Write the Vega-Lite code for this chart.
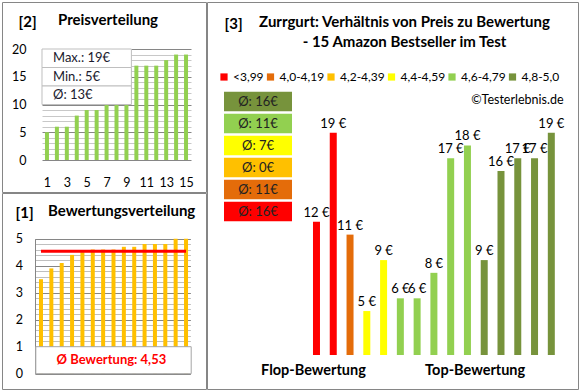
{
  "$schema": "https://vega.github.io/schema/vega-lite/v6.json",
  "padding": {"left": 1, "top": 1, "right": 0, "bottom": 0},
  "background": "white",
  "spacing": -3,
  "config": {
    "view": {"stroke": "#868686", "strokeWidth": 1},
    "font": "Lato",
    "axis": {"labelFont": "Lato", "titleFont": "Lato", "labelColor": "#000", "titleColor": "#000", "labelOverlap": false},
    "title": {"font": "Lato", "color": "#000"},
    "legend": {"labelFont": "Lato", "labelColor": "#000"}
  },
  "resolve": {"scale": {"color": "independent"}, "legend": {"color": "independent"}},
  "datasets": {
    "products": [
      {"rank": 1, "rating": 3.5, "price": 12, "cat": "<3,99"},
      {"rank": 2, "rating": 3.9, "price": 19, "cat": "<3,99"},
      {"rank": 3, "rating": 4.1, "price": 11, "cat": "4,0-4,19"},
      {"rank": 4, "rating": 4.4, "price": 5, "cat": "4,4-4,59"},
      {"rank": 5, "rating": 4.5, "price": 9, "cat": "4,4-4,59"},
      {"rank": 6, "rating": 4.6, "price": 6, "cat": "4,6-4,79"},
      {"rank": 7, "rating": 4.6, "price": 6, "cat": "4,6-4,79"},
      {"rank": 8, "rating": 4.6, "price": 8, "cat": "4,6-4,79"},
      {"rank": 9, "rating": 4.7, "price": 17, "cat": "4,6-4,79"},
      {"rank": 10, "rating": 4.7, "price": 18, "cat": "4,6-4,79"},
      {"rank": 11, "rating": 4.8, "price": 9, "cat": "4,8-5,0"},
      {"rank": 12, "rating": 4.8, "price": 16, "cat": "4,8-5,0"},
      {"rank": 13, "rating": 4.8, "price": 17, "cat": "4,8-5,0"},
      {"rank": 14, "rating": 5.0, "price": 17, "cat": "4,8-5,0"},
      {"rank": 15, "rating": 5.0, "price": 19, "cat": "4,8-5,0"}
    ],
    "prices": [
      {"pos": 1, "price": 5}, {"pos": 2, "price": 6}, {"pos": 3, "price": 6},
      {"pos": 4, "price": 8}, {"pos": 5, "price": 9}, {"pos": 6, "price": 9},
      {"pos": 7, "price": 11}, {"pos": 8, "price": 12}, {"pos": 9, "price": 16},
      {"pos": 10, "price": 17}, {"pos": 11, "price": 17}, {"pos": 12, "price": 17},
      {"pos": 13, "price": 18}, {"pos": 14, "price": 19}, {"pos": 15, "price": 19}
    ],
    "stats": [
      {"row": "max", "text": "Max.: 19€"},
      {"row": "min", "text": "Min.: 5€"},
      {"row": "avg", "text": "Ø: 13€"}
    ],
    "groups": [
      {"cat": "4,8-5,0", "avgText": "Ø: 16€"},
      {"cat": "4,6-4,79", "avgText": "Ø: 11€"},
      {"cat": "4,4-4,59", "avgText": "Ø: 7€"},
      {"cat": "4,2-4,39", "avgText": "Ø: 0€"},
      {"cat": "4,0-4,19", "avgText": "Ø: 11€"},
      {"cat": "<3,99", "avgText": "Ø: 16€"}
    ]
  },
  "hconcat": [
    {
      "spacing": -3,
      "vconcat": [
        {
          "width": 204,
          "height": 190,
          "title": {"text": "Preisverteilung", "anchor": "start", "frame": "group", "dx": 56, "offset": -26, "fontSize": 15, "fontWeight": "bold"},
          "resolve": {"scale": {"y": "independent"}},
          "layer": [
            {
              "data": {"name": "prices"},
              "mark": {"type": "bar", "color": "#92D050", "size": 4},
              "encoding": {
                "x": {"field": "pos", "type": "quantitative", "scale": {"domain": [0.5, 15.5], "range": [40, 189], "padding": 0, "nice": false, "zero": false},
                  "axis": {"values": [1, 3, 5, 7, 9, 11, 13, 15], "format": "d", "tickCount": 100, "labelOverlap": false, "grid": false, "domain": false, "ticks": false, "tickSize": 0, "labelPadding": 16, "offset": -32, "title": null, "labelFontSize": 12.5}},
                "y": {"field": "price", "type": "quantitative", "scale": {"domain": [0, 20], "range": [158, 47], "padding": 0, "nice": false},
                  "axis": {"values": [0,1,2,3,4,5,6,7,8,9,10,11,12,13,14,15,16,17,18,19,20], "tickCount": 100, "labelOverlap": false,
                    "labelExpr": "datum.value % 5 === 0 ? format(datum.value, 'd') : ''",
                    "grid": false, "zindex": 0,
                    "ticks": true, "tickSize": -149, "tickWidth": 1,
                    "tickColor": {"condition": {"test": "datum.value % 5 === 0", "value": "#868686"}, "value": "#c8c8c8"},
                    "domain": false, "labelPadding": 165, "offset": -40, "labelFontSize": 12.5,
                    "title": "[2]", "titleAngle": 0, "titleX": -24, "titleY": 19, "titleAlign": "left", "titleBaseline": "middle", "titleFontSize": 15, "titleFontWeight": "bold"}}
              }
            },
            {
              "data": {"name": "stats"},
              "encoding": {
                "y": {"field": "row", "type": "nominal", "sort": ["max", "min", "avg"], "scale": {"range": [47, 102.5], "paddingInner": 0, "paddingOuter": 0}, "axis": null}
              },
              "layer": [
                {"mark": {"type": "rect", "fill": "white", "stroke": "#bfbfbf", "strokeWidth": 1}, "encoding": {"x": {"datum": 0.5}, "x2": {"datum": 9.5}}},
                {"mark": {"type": "text", "align": "left", "dx": 11, "fontSize": 13, "color": "#1a1a2e"}, "encoding": {"x": {"datum": 0.5}, "text": {"field": "text"}}}
              ]
            }
          ]
        },
        {
          "width": 204,
          "height": 196,
          "title": {"text": "Bewertungsverteilung", "anchor": "start", "frame": "group", "dx": 46, "offset": -26, "fontSize": 15, "fontWeight": "bold"},
          "layer": [
            {
              "data": {"name": "products"},
              "mark": {"type": "bar", "color": "#FFC000", "size": 4},
              "encoding": {
                "x": {"field": "rank", "type": "quantitative", "scale": {"domain": [0.5, 15.5], "range": [33.8, 189.2], "padding": 0, "nice": false, "zero": false}, "axis": null},
                "y": {"field": "rating", "type": "quantitative", "scale": {"domain": [0, 5], "range": [180.7, 45.7], "padding": 0, "nice": false},
                  "axis": {"values": [0,0.2,0.4,0.6,0.8,1,1.2,1.4,1.6,1.8,2,2.2,2.4,2.6,2.8,3,3.2,3.4,3.6,3.8,4,4.2,4.4,4.6,4.8,5], "tickCount": 100, "labelOverlap": false,
                    "labelExpr": "datum.value % 1 === 0 ? format(datum.value, 'd') : ''",
                    "grid": false, "zindex": 0,
                    "ticks": true, "tickSize": -155.4, "tickWidth": 1,
                    "tickColor": {"condition": {"test": "datum.value % 1 === 0", "value": "#868686"}, "value": "#bfbfbf"},
                    "domain": true, "domainColor": "#868686", "labelPadding": 168, "offset": -33, "labelFontSize": 12.5,
                    "title": "[1]", "titleAngle": 0, "titleX": -20, "titleY": 19, "titleAlign": "left", "titleBaseline": "middle", "titleFontSize": 15, "titleFontWeight": "bold"}}
              }
            },
            {
              "data": {"values": [{}]},
              "mark": {"type": "rect", "fill": "white", "stroke": "#a6a6a6", "strokeWidth": 1},
              "encoding": {"x": {"datum": 0.5}, "x2": {"datum": 15.5}, "y": {"datum": 0}, "y2": {"datum": 1}}
            },
            {
              "data": {"values": [{}]},
              "mark": {"type": "text", "fontSize": 13, "fontWeight": "bold", "color": "#FF0000"},
              "encoding": {"x": {"datum": 7.8}, "y": {"datum": 0.5}, "text": {"value": "Ø Bewertung: 4,53"}}
            },
            {
              "data": {"name": "products"},
              "transform": [{"joinaggregate": [{"op": "mean", "field": "rating", "as": "avg"}]}],
              "mark": {"type": "line", "color": "#FF0000", "strokeWidth": 3},
              "encoding": {"x": {"field": "rank", "type": "quantitative"}, "y": {"field": "avg", "type": "quantitative"}}
            }
          ]
        }
      ]
    },
    {
      "width": 371,
      "height": 387,
      "title": {"text": ["Zurrgurt: Verhältnis von Preis zu Bewertung", "- 15 Amazon Bestseller im Test"], "anchor": "middle", "frame": "group", "dx": 12, "offset": -48, "fontSize": 15, "fontWeight": "bold", "lineHeight": 20},
      "resolve": {"scale": {"x": "independent", "y": "independent"}},
      "layer": [
        {
          "data": {"name": "products"},
          "transform": [{"calculate": "datum.price + ' €'", "as": "label"}],
          "encoding": {
            "x": {"field": "rank", "type": "quantitative", "scale": {"domain": [0.5, 15.5], "range": [101.1, 352.7], "padding": 0, "nice": false, "zero": false},
              "axis": {"values": [0.79, 10.43], "tickCount": 100, "labelOverlap": false, "labelExpr": "datum.value < 5 ? 'Flop-Bewertung' : 'Top-Bewertung'",
                "grid": false, "ticks": false, "tickSize": 0, "domain": false, "offset": -33, "labelPadding": 7, "labelFontSize": 14.5, "labelFontWeight": "bold", "labelBaseline": "top",
                "title": "©Testerlebnis.de", "titleX": 356, "titleY": -257, "titleAlign": "right", "titleBaseline": "middle", "titleFontWeight": "normal", "titleFontSize": 12.5}},
            "y": {"field": "price", "type": "quantitative", "scale": {"domain": [1.55, 19], "range": [353, 130.7], "padding": 0, "nice": false, "zero": false},
              "axis": {"labels": false, "ticks": false, "domain": false, "grid": false,
                "title": "[3]", "titleAngle": 0, "titleX": 17, "titleY": 21, "titleAlign": "left", "titleBaseline": "middle", "titleFontSize": 15, "titleFontWeight": "bold"}}
          },
          "layer": [
            {
              "mark": {"type": "bar", "size": 7},
              "encoding": {
                "y2": {"datum": 1.55},
                "color": {"field": "cat", "type": "nominal",
                  "scale": {"domain": ["<3,99", "4,0-4,19", "4,2-4,39", "4,4-4,59", "4,6-4,79", "4,8-5,0"], "range": ["#FF0000", "#E46C0A", "#FFC000", "#FFFF00", "#92D050", "#77933C"]},
                  "legend": {"orient": "none", "legendX": 11, "legendY": 69, "direction": "horizontal", "columns": 6, "gridAlign": "none", "title": null, "symbolType": "square", "symbolSize": 52, "symbolStrokeWidth": 0, "labelFontSize": 12, "labelOffset": 3, "columnPadding": 0.5, "padding": 0, "labelLimit": 200}}
              }
            },
            {
              "mark": {"type": "text", "baseline": "bottom", "dy": -2, "fontSize": 13, "color": "#000"},
              "encoding": {"text": {"field": "label"}}
            }
          ]
        },
        {
          "data": {"name": "groups"},
          "encoding": {
            "y": {"field": "cat", "type": "nominal", "sort": ["4,8-5,0", "4,6-4,79", "4,4-4,59", "4,2-4,39", "4,0-4,19", "<3,99"],
              "scale": {"range": [88.5, 220.5], "paddingInner": 0.11, "paddingOuter": 0.055}, "axis": null}
          },
          "layer": [
            {
              "mark": {"type": "rect"},
              "encoding": {
                "x": {"datum": 0, "type": "quantitative", "scale": {"domain": [0, 1], "range": [17, 85], "padding": 0, "nice": false}, "axis": null},
                "x2": {"datum": 1},
                "color": {"field": "cat", "type": "nominal"}
              }
            },
            {
              "mark": {"type": "text", "fontSize": 13, "color": "#222"},
              "encoding": {"x": {"datum": 0.5, "type": "quantitative"}, "text": {"field": "avgText"}}
            }
          ]
        }
      ]
    }
  ]
}
